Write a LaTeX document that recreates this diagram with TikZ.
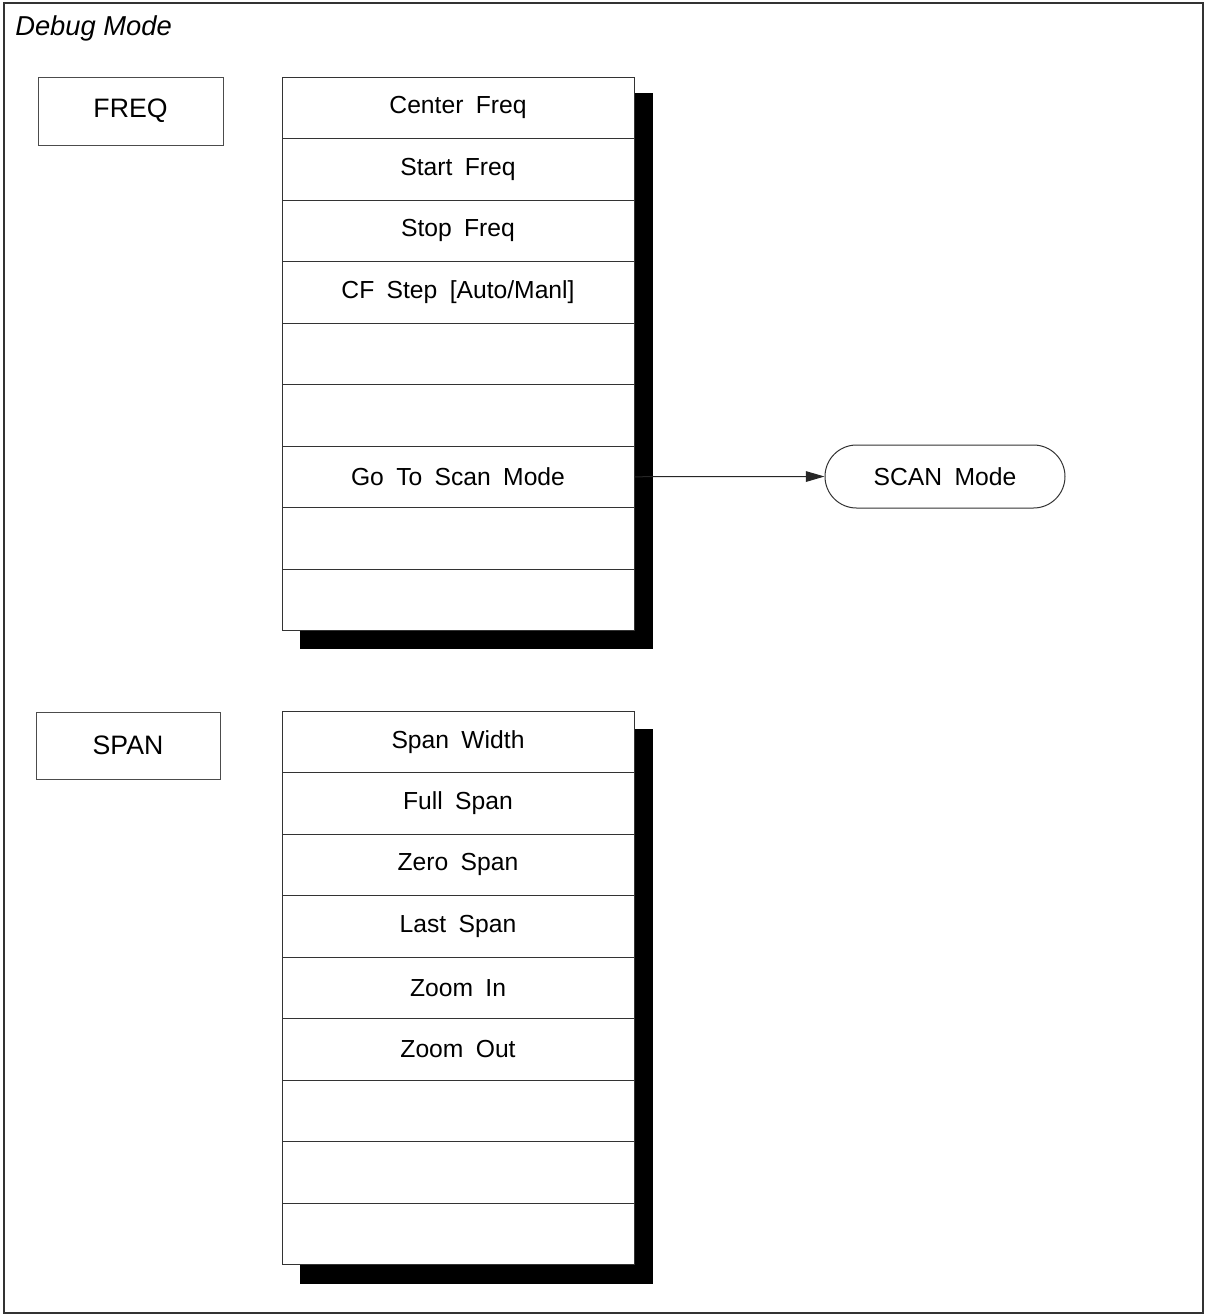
\documentclass[tikz,border=0pt]{standalone}
\usepackage{fontspec}
\setmainfont{Liberation Sans}[WordSpace={1.8}]
\newfontfamily\titlefont{Liberation Sans}
\usetikzlibrary{arrows.meta,shapes.misc}
\begin{document}
\begin{tikzpicture}[x=0.75pt,y=-0.75pt,
  frame/.style={draw=black!80,line width=1.1pt},
  rowbox/.style={draw=black!80,fill=white,line width=0.75pt,minimum width=264pt,minimum height=46.125pt,inner sep=0pt,font=\fontsize{18.5}{22}\selectfont},
  keybox/.style={draw=black!70,fill=white,line width=0.75pt,inner sep=0pt,font=\fontsize{20}{24}\selectfont},
  shadowbox/.style={fill=black,draw=none},
  modebox/.style={rounded rectangle,draw=black!80,line width=0.75pt,minimum width=180pt,minimum height=47.25pt,inner sep=0pt,font=\fontsize{18.5}{22}\selectfont},
  link/.style={draw=black!85,line width=0.75pt,-{Triangle[length=14pt,width=8pt]}}]
\useasboundingbox (0,0) rectangle (1205,1315);
\draw[frame] (4,3) rectangle (1203,1313);
\node[anchor=base west,inner sep=0pt,font=\titlefont\fontsize{20.5}{24}\selectfont\itshape] (title) at (15,35) {Debug Mode};
% FREQ
\node[keybox,minimum width=138.75pt,minimum height=51pt] (freq) at (130.5,111) {FREQ};
\fill[shadowbox] (300,93) rectangle (652.5,649);
\node[rowbox] (f1) at (458,107.75) {Center Freq};
\node[rowbox] (f2) at (458,169.25) {Start Freq};
\node[rowbox] (f3) at (458,230.75) {Stop Freq};
\node[rowbox] (f4) at (458,292.25) {CF Step [Auto/Manl]};
\node[rowbox] (f5) at (458,353.75) {};
\node[rowbox] (f6) at (458,415.25) {};
\node[rowbox] (f7) at (458,476.75) {Go To Scan Mode};
\node[rowbox] (f8) at (458,538.25) {};
\node[rowbox] (f9) at (458,599.75) {};
\node[modebox] (scan) at (945,476.5) {SCAN Mode};
\draw[link] (f7.east) -- (scan.west);
% SPAN
\node[keybox,minimum width=138pt,minimum height=50.25pt] (span) at (128,745.5) {SPAN};
\fill[shadowbox] (300,729) rectangle (652.5,1284);
\node[rowbox] (s1) at (458,741.75) {Span Width};
\node[rowbox] (s2) at (458,803.25) {Full Span};
\node[rowbox] (s3) at (458,864.75) {Zero Span};
\node[rowbox] (s4) at (458,926.25) {Last Span};
\node[rowbox] (s5) at (458,987.75) {Zoom In};
\node[rowbox] (s6) at (458,1049.25) {Zoom Out};
\node[rowbox] (s7) at (458,1110.75) {};
\node[rowbox] (s8) at (458,1172.25) {};
\node[rowbox] (s9) at (458,1233.75) {};
\end{tikzpicture}
\end{document}
